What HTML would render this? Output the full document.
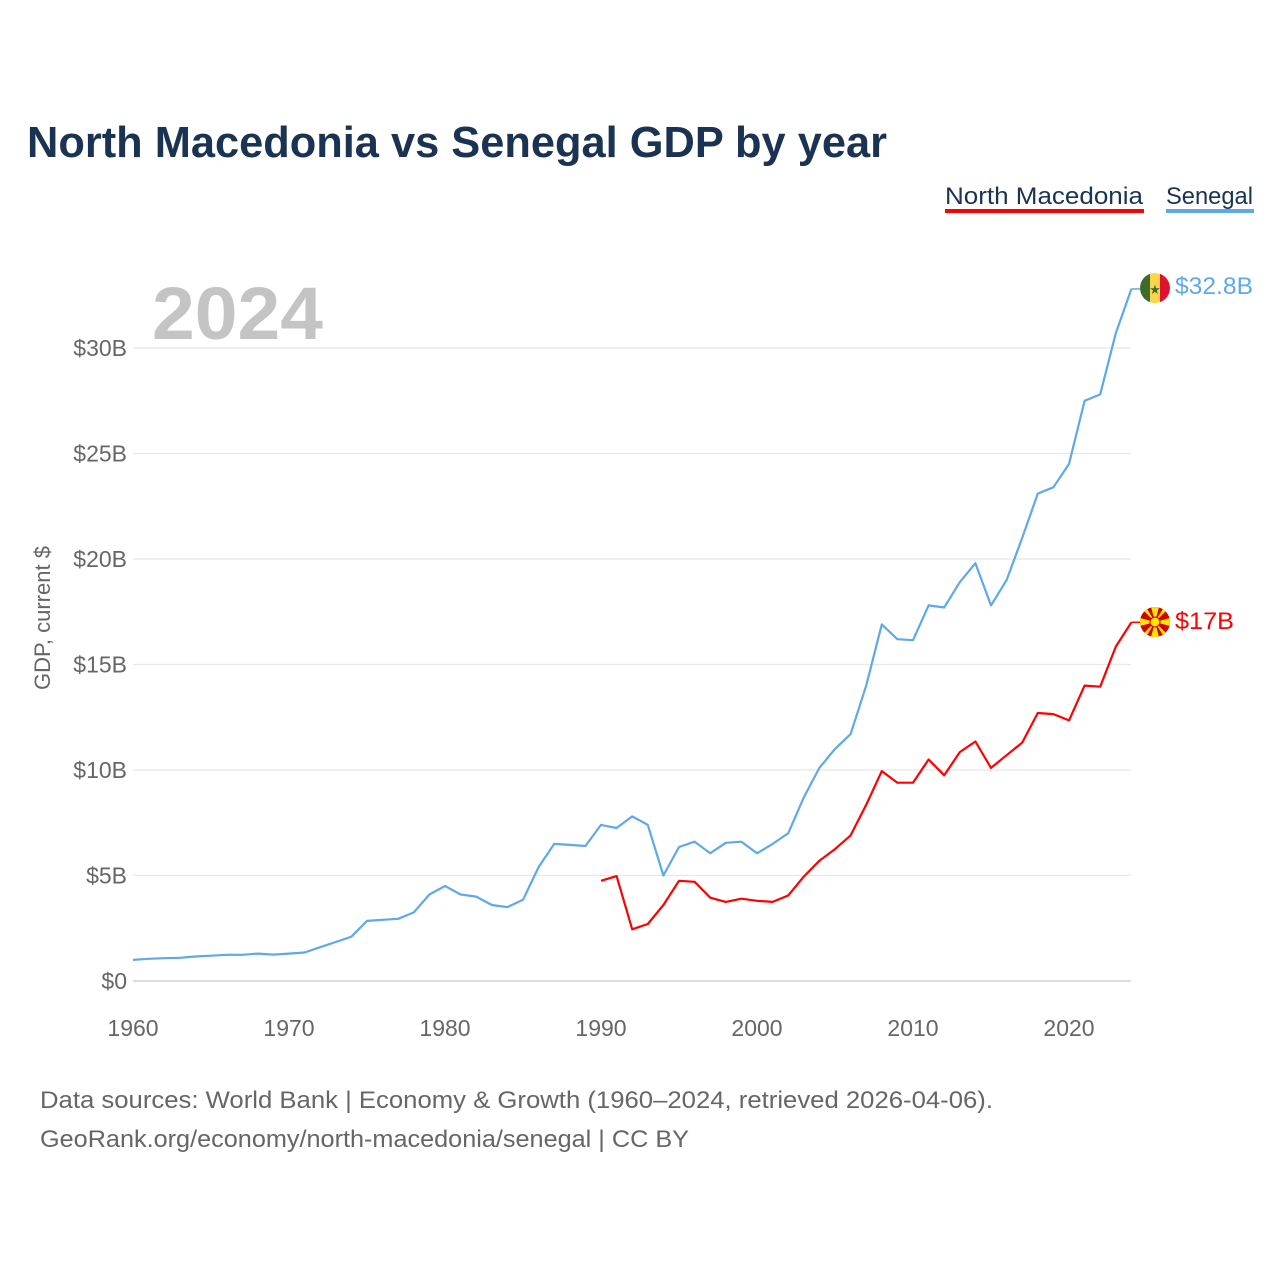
<!DOCTYPE html>
<html><head><meta charset="utf-8"><style>
body{margin:0;background:#fff;}
svg text{font-family:"Liberation Sans",sans-serif;}
</style></head><body>
<svg width="1280" height="1280" viewBox="0 0 1280 1280">
<text x="27" y="157" font-size="44" font-weight="bold" fill="#1b3353" textLength="860" lengthAdjust="spacingAndGlyphs">North Macedonia vs Senegal GDP by year</text>
<g>
<text x="945" y="204" font-size="24" fill="#1b3353" textLength="198" lengthAdjust="spacingAndGlyphs">North Macedonia</text>
<rect x="945" y="209" width="199" height="4" fill="#ff0000"/>
<text x="1166" y="204" font-size="24" fill="#1b3353" textLength="87" lengthAdjust="spacingAndGlyphs">Senegal</text>
<rect x="1166" y="209" width="88" height="4" fill="#5fa8ea"/>
</g>
<text x="152" y="339" font-size="74" font-weight="bold" fill="#c4c4c4" textLength="171" lengthAdjust="spacingAndGlyphs">2024</text>
<g id="grid"></g>
<g id="yticks"></g>
<g id="xticks"></g>
<text transform="translate(50,618) rotate(-90)" text-anchor="middle" font-size="22" fill="#666">GDP, current $</text>
<g id="series"></g>
<g>
<clipPath id="cs"><circle cx="1155" cy="288" r="15"/></clipPath>
<g clip-path="url(#cs)"><rect x="1140" y="273" width="10" height="30" fill="#3d6b2a"/><rect x="1150" y="273" width="10" height="30" fill="#fdd54a"/><rect x="1160" y="273" width="10" height="30" fill="#e0132f"/></g>
<text x="1155" y="294" font-size="13" text-anchor="middle" fill="#3d6b2a">★</text>
</g>
<g>
<clipPath id="cm"><circle cx="1155" cy="622" r="15"/></clipPath>
<g clip-path="url(#cm)"><rect x="1140" y="607" width="30" height="30" fill="#d20000"/>
<path d="M1155 622 L1151 607 L1159 607Z M1155 622 L1151 637 L1159 637Z M1155 622 L1140 618 L1140 626Z M1155 622 L1170 618 L1170 626Z M1155 622 L1140 607 L1146 607Z M1155 622 L1170 637 L1164 637Z M1155 622 L1170 607 L1164 607Z M1155 622 L1140 637 L1146 637Z" fill="#ffe600"/>
<circle cx="1155" cy="622" r="5" fill="#ffe600" stroke="#d20000" stroke-width="1"/></g>
</g>
<text x="1175" y="294" font-size="24" fill="#5fa8ea" textLength="78" lengthAdjust="spacingAndGlyphs">$32.8B</text>
<text x="1175" y="629" font-size="24" fill="#ff0000" textLength="59" lengthAdjust="spacingAndGlyphs">$17B</text>
<text x="40" y="1108" font-size="24" fill="#666" textLength="953" lengthAdjust="spacingAndGlyphs">Data sources: World Bank | Economy &amp; Growth (1960–2024, retrieved 2026-04-06).</text>
<text x="40" y="1147" font-size="24" fill="#666" textLength="649" lengthAdjust="spacingAndGlyphs">GeoRank.org/economy/north-macedonia/senegal | CC BY</text>
</svg>
<script>
const years=[];for(let y=1960;y<=2024;y++)years.push(y);
const senegal=[1.0,1.05,1.08,1.1,1.16,1.2,1.24,1.24,1.3,1.25,1.3,1.35,1.6,1.85,2.1,2.85,2.9,2.95,3.25,4.1,4.5,4.1,4.0,3.6,3.5,3.85,5.4,6.5,6.45,6.4,7.4,7.25,7.8,7.4,5.0,6.35,6.6,6.05,6.55,6.6,6.05,6.5,7.0,8.7,10.1,11.0,11.7,14.0,16.9,16.2,16.15,17.8,17.7,18.9,19.8,17.8,19.0,21.0,23.1,23.4,24.5,27.5,27.8,30.7,32.8];
const macYears=[];for(let y=1990;y<=2024;y++)macYears.push(y);
const macedonia=[4.75,4.97,2.45,2.7,3.6,4.75,4.7,3.95,3.75,3.9,3.8,3.75,4.05,4.95,5.7,6.25,6.9,8.35,9.95,9.4,9.4,10.5,9.75,10.85,11.35,10.1,10.7,11.3,12.7,12.65,12.35,14.0,13.95,15.85,17.0];
const yTicks=[0,5,10,15,20,25,30];
const yTickLabels=["$0","$5B","$10B","$15B","$20B","$25B","$30B"];
const xTicks=[1960,1970,1980,1990,2000,2010,2020];
const NS="http://www.w3.org/2000/svg";
const X=y=>133+(y-1960)*15.6;
const Y=v=>981-v*21.1;
function mk(tag,attrs,parent){const e=document.createElementNS(NS,tag);for(const k in attrs)e.setAttribute(k,attrs[k]);parent.appendChild(e);return e;}
const grid=document.getElementById('grid'),yt=document.getElementById('yticks'),xt=document.getElementById('xticks'),ser=document.getElementById('series');
yTicks.forEach((v,i)=>{
 const l=mk('line',{x1:133,x2:1131,y1:Y(v),y2:Y(v),stroke:v===0?'#ddd':'#e8e8e8','stroke-width':v===0?2:1.2},grid);
 
 
 const t=mk('text',{x:127,y:Y(v)+8,'text-anchor':'end','font-size':23,fill:'#666'},yt);
 t.textContent=yTickLabels[i];
 
 
});
xTicks.forEach(v=>{
 const t=mk('text',{x:X(v),y:1036,'text-anchor':'middle','font-size':23,fill:'#666'},xt);
 t.textContent=v;
 
 
});
function line(xs,vs,color,name){
 const d=vs.map((v,i)=>(i?'L':'M')+X(xs[i]).toFixed(1)+' '+Y(v).toFixed(1)).join(' ');
 const p=mk('path',{d:d,fill:'none',stroke:color,'stroke-width':2.2,'stroke-linejoin':'round'},ser);
 
 
 const last=vs[vs.length-1];
 const c=mk('line',{x1:X(xs[xs.length-1]),x2:1140,y1:Y(last),y2:Y(last),stroke:color,'stroke-width':1.5},ser);
 
 
}
line(years,senegal,'#5fa8ea','line-senegal');
line(macYears,macedonia,'#ff0000','line-north-macedonia');
</script>
</body></html>
